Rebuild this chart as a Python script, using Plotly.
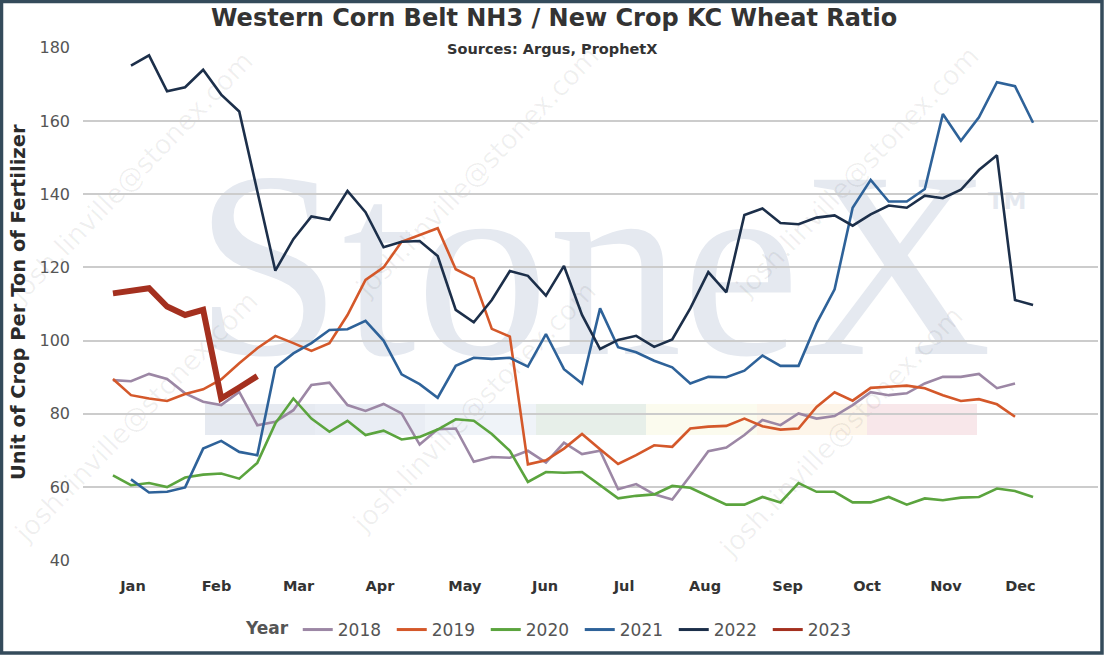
import plotly.graph_objects as go

# ---------------- data ----------------
MONTHS = ["Jan", "Feb", "Mar", "Apr", "May", "Jun", "Jul", "Aug", "Sep", "Oct", "Nov", "Dec"]
MONTH_POS = [2.11, 6.74, 11.29, 15.80, 20.51, 24.95, 29.33, 33.82, 38.39, 42.80, 47.17, 51.30]

Y_TICKS = [40, 60, 80, 100, 120, 140, 160, 180]

START_2018 = 1
VALS_2018 = [89.2, 88.9, 90.9, 89.5, 85.6, 83.3, 82.4, 86.0, 76.9, 77.8, 81.0, 87.9, 88.5, 82.4,
             80.8, 82.7, 80.1, 71.6, 75.8, 76.0, 66.9, 68.2, 68.0, 69.9, 66.7, 72.1, 69.0, 69.9,
             59.4, 60.8, 58.0, 56.6, 63.1, 69.8, 70.8, 74.2, 78.3, 76.9, 80.1, 78.7, 79.4, 82.4,
             85.9, 85.1, 85.6, 88.3, 90.1, 90.1, 90.9, 87.0, 88.3]

START_2019 = 1
VALS_2019 = [89.5, 85.1, 84.2, 83.5, 85.4, 86.7, 89.4, 93.8, 97.9, 101.3, 99.3, 97.2, 99.3, 107.0,
             116.6, 120.0, 127.0, 128.9, 130.7, 119.5, 117.0, 103.2, 101.1, 66.2, 67.3, 70.5, 74.5,
             70.3, 66.3, 68.7, 71.4, 71.0, 76.0, 76.5, 76.7, 78.7, 76.6, 75.7, 76.0, 81.9, 85.9,
             83.6, 87.1, 87.4, 87.7, 87.0, 85.1, 83.5, 84.0, 82.6, 79.2]

START_2020 = 1
VALS_2020 = [63.2, 60.5, 61.1, 60.0, 62.6, 63.4, 63.7, 62.3, 66.6, 77.4, 84.2, 78.7, 75.1, 78.1,
             74.2, 75.4, 73.0, 73.7, 75.7, 78.5, 78.1, 74.5, 69.9, 61.4, 64.1, 63.9, 64.1, 60.5,
             56.9, 57.6, 58.0, 60.3, 59.8, 57.5, 55.2, 55.2, 57.3, 55.8, 61.1, 58.7, 58.7, 55.8,
             55.8, 57.3, 55.2, 56.9, 56.4, 57.1, 57.3, 59.6, 58.9, 57.3]

START_2021 = 2
VALS_2021 = [62.1, 58.5, 58.7, 59.9, 70.5, 72.6, 69.6, 68.7, 92.6, 96.5, 99.3, 102.9, 103.1, 105.4,
             100.0, 90.8, 88.1, 84.4, 93.1, 95.3, 95.0, 95.3, 92.9, 101.8, 92.2, 88.3, 108.8, 98.2,
             96.8, 94.5, 92.7, 88.3, 90.1, 90.0, 91.8, 95.9, 93.1, 93.1, 104.7, 114.0, 136.3, 143.9,
             138.0, 138.0, 141.4, 161.9, 154.6, 161.0, 170.6, 169.5, 159.5]

START_2022 = 2
VALS_2022 = [175.1, 177.9, 168.1, 169.2, 174.0, 167.2, 162.6, 141.0, 119.1, 127.7, 133.9, 133.0,
             140.9, 135.1, 125.5, 127.0, 127.2, 123.1, 108.4, 105.0, 111.1, 119.0, 117.7, 112.3,
             120.4, 107.0, 97.7, 100.2, 101.3, 98.3, 100.3, 108.8, 118.7, 113.2, 134.3, 136.1,
             132.1, 131.8, 133.6, 134.2, 131.4, 134.5, 136.9, 136.3, 139.6, 138.9, 141.2, 146.6,
             150.6, 111.1, 109.7]

START_2023 = 1
VALS_2023 = [112.9, 113.6, 114.3, 109.3, 107.0, 108.4, 84.2, 87.2, 90.3]

SERIES = [
    ("2018", START_2018, VALS_2018, "#9c87a5", 2.6),
    ("2019", START_2019, VALS_2019, "#d4582a", 2.6),
    ("2020", START_2020, VALS_2020, "#5ba43e", 2.6),
    ("2021", START_2021, VALS_2021, "#2e6299", 2.6),
    ("2022", START_2022, VALS_2022, "#1c2f4a", 2.6),
    ("2023", START_2023, VALS_2023, "#a4301f", 6),
]
LEGEND_LINE_WIDTH = 3

# ---------------- layout geometry ----------------
FIG_W, FIG_H = 1104, 655
ML, MR, MT, MB = 83, 6, 47, 94
PW = FIG_W - ML - MR
PH = FIG_H - MT - MB


def px(x):
    return (x - ML) / PW


def py(y):
    return (FIG_H - MB - y) / PH


fig = go.Figure()
for name, start, vals, color, width in SERIES:
    weeks = list(range(start, start + len(vals)))
    fig.add_trace(go.Scatter(
        x=weeks, y=vals, mode="lines", name=name, legendgroup=name,
        line=dict(color=color, width=width), showlegend=False,
        hoverinfo="x+y+name",
    ))
# legend entries (uniform line thickness like the reference legend)
for name, start, vals, color, width in SERIES:
    fig.add_trace(go.Scatter(
        x=[None], y=[None], mode="lines", name=name, legendgroup=name,
        line=dict(color=color, width=LEGEND_LINE_WIDTH), showlegend=True, hoverinfo="skip",
    ))

shapes = []
# faint coloured band of the logo watermark
bands = [
    (205, 315, "#e6eaf1"), (315, 425, "#e9edf4"), (425, 536, "#eff3f8"),
    (536, 646, "#e7efe9"), (646, 757, "#fbfbee"), (757, 867, "#fdf5e9"),
    (867, 977, "#f8e7ea"),
]
for x0, x1, c in bands:
    shapes.append(dict(type="rect", xref="paper", yref="paper",
                       x0=px(x0), x1=px(x1), y0=py(435), y1=py(404),
                       fillcolor=c, line=dict(width=0), layer="below"))

# big logo text watermark
shapes.append(dict(type="rect", xref="paper", yref="paper",
                   x0=px(183), x1=px(1003), y0=py(328), y1=py(143),
                   fillcolor="rgba(0,0,0,0)", line=dict(width=0), layer="below",
                   label=dict(text="StoneX", textposition="middle center",
                              font=dict(family="Liberation Serif", size=266, color="#e5e9f0"))))
shapes.append(dict(type="rect", xref="paper", yref="paper",
                   x0=px(988), x1=px(1026), y0=py(211), y1=py(187),
                   fillcolor="rgba(0,0,0,0)", line=dict(width=0), layer="below",
                   label=dict(text="TM", textposition="middle center",
                              font=dict(family="DejaVu Sans", size=23, color="#e5e9f0",
                                        weight="bold"))))

# email watermarks (kept fully inside the picture)
wm_centers = [(130, 175), (476, 170), (856, 170), (135, 415), (473, 405), (840, 430)]
for cx, cy in wm_centers:
    shapes.append(dict(type="rect", xref="paper", yref="paper",
                       x0=px(cx - 5), x1=px(cx + 5), y0=py(cy + 5), y1=py(cy - 5),
                       fillcolor="rgba(0,0,0,0)", line=dict(width=0), layer="below",
                       label=dict(text="josh.linville@stonex.com", textposition="middle center",
                                  textangle=-46,
                                  font=dict(family="DejaVu Sans", size=27, color="rgba(0,0,0,0.06)"))))

# outer frame
shapes.append(dict(type="rect", xref="paper", yref="paper",
                   x0=px(1.5), x1=px(1102), y0=py(653), y1=py(1.5),
                   fillcolor="rgba(0,0,0,0)", line=dict(color="#344b5b", width=3.5), layer="above"))

annotations = [
    dict(text="Western Corn Belt NH3 / New Crop KC Wheat Ratio", xref="paper", yref="paper",
         x=px(553.5), y=py(18), xanchor="center", yanchor="middle", showarrow=False,
         font=dict(family="DejaVu Sans", size=24, color="#333333", weight="bold")),
    dict(text="Sources: Argus, ProphetX", xref="paper", yref="paper",
         x=px(551.5), y=py(49), xanchor="center", yanchor="middle", showarrow=False,
         font=dict(family="DejaVu Sans", size=14.5, color="#333333", weight="bold")),
    dict(text="Unit of Crop Per Ton of Fertilizer", xref="paper", yref="paper",
         x=px(18), y=py(302), xanchor="center", yanchor="middle", showarrow=False, textangle=-90,
         font=dict(family="DejaVu Sans", size=19.5, color="#2b2b2b", weight="bold")),
]

fig.update_layout(
    width=FIG_W, height=FIG_H,
    margin=dict(l=ML, r=MR, t=MT, b=MB, autoexpand=False),
    paper_bgcolor="white", plot_bgcolor="rgba(0,0,0,0)",
    showlegend=True,
    legend=dict(orientation="h", x=px(553), xanchor="center", y=py(630), yanchor="middle",
                entrywidth=49, entrywidthmode="pixels",
                font=dict(family="DejaVu Sans", size=17, color="#555555"),
                title=dict(text="Year", side="left",
                           font=dict(family="DejaVu Sans", size=17, color="#555555", weight="bold")),
                bgcolor="rgba(0,0,0,0)", traceorder="normal"),
    xaxis=dict(range=[-0.66, 55.6], tickmode="array", tickvals=MONTH_POS, ticktext=MONTHS,
               showgrid=False, zeroline=False, showline=False, ticks="", ticklabelstandoff=14,
               tickfont=dict(family="DejaVu Sans", size=14.5, color="#333333", weight="bold"),
               fixedrange=True),
    yaxis=dict(range=[39.8, 180.2], tickmode="array", tickvals=Y_TICKS,
               showgrid=True, gridcolor="#cccccc", gridwidth=1.5, zeroline=False, showline=False,
               ticks="", ticklabelstandoff=12,
               tickfont=dict(family="DejaVu Sans", size=16, color="#555555"),
               fixedrange=True),
    shapes=shapes,
    annotations=annotations,
    hovermode="closest",
)

fig.write_html("out.html", config={"displayModeBar": False},
               post_script="document.body.style.margin='0';document.body.style.overflow='hidden';")
